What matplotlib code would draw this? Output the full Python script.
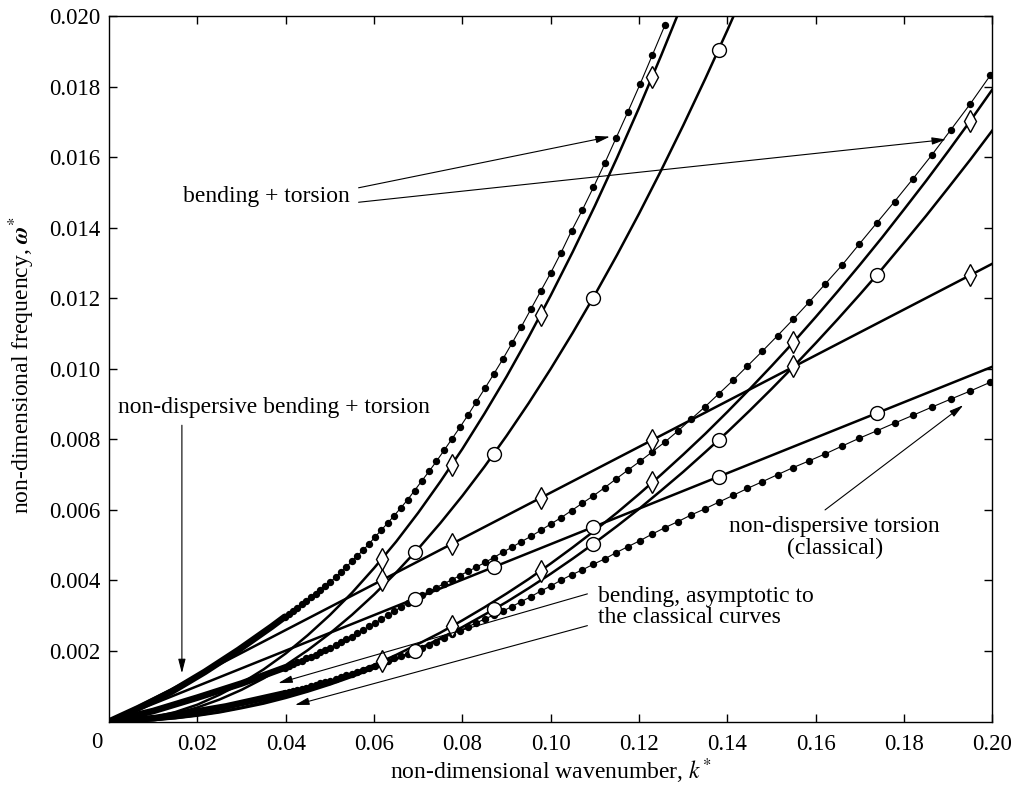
#!/usr/bin/env python3
"""
Dispersion curves: non-dimensional frequency vs non-dimensional wavenumber.
"""
import matplotlib
matplotlib.use('Agg')
import matplotlib.pyplot as plt

# ---------------------------------------------------------------------------
# data
# ---------------------------------------------------------------------------

# k* positions of the dots on the three dotted curves
K_DOT = [
    0.03981, 0.04074, 0.04169, 0.04266, 0.04365, 0.04467, 0.04571, 0.04677, 0.04786, 0.04898,
    0.05012, 0.05129, 0.05248, 0.05370, 0.05495, 0.05623, 0.05754, 0.05888, 0.06026, 0.06166,
    0.06310, 0.06457, 0.06607, 0.06761, 0.06918, 0.07079, 0.07244, 0.07413, 0.07586, 0.07762,
    0.07943, 0.08128, 0.08318, 0.08511, 0.08710, 0.08913, 0.09120, 0.09333, 0.09550, 0.09772,
    0.10000, 0.10233, 0.10471, 0.10715, 0.10965, 0.11220, 0.11482, 0.11749, 0.12023, 0.12303,
    0.12589, 0.12882, 0.13183, 0.13490, 0.13804, 0.14125, 0.14454, 0.14791, 0.15136, 0.15488,
    0.15849, 0.16218, 0.16596, 0.16982, 0.17378, 0.17783, 0.18197, 0.18621, 0.19055, 0.19498,
    0.19953,
]

# steep bending + torsion (dotted)
W_DOT_A = [
    0.00297, 0.00306, 0.00314, 0.00323, 0.00333, 0.00342, 0.00352, 0.00363, 0.00374, 0.00385,
    0.00396, 0.00409, 0.00423, 0.00438, 0.00454, 0.00470, 0.00486, 0.00504, 0.00524, 0.00543,
    0.00563, 0.00584, 0.00606, 0.00629, 0.00655, 0.00682, 0.00709, 0.00738, 0.00769, 0.00801,
    0.00834, 0.00869, 0.00907, 0.00945, 0.00985, 0.01027, 0.01072, 0.01119, 0.01169, 0.01220,
    0.01272, 0.01329, 0.01391, 0.01450, 0.01514, 0.01582, 0.01655, 0.01729, 0.01807, 0.01890,
    0.01975,
]

# second bending + torsion (dotted)
W_DOT_B = [
    0.00153, 0.00158, 0.00163, 0.00168, 0.00173, 0.00179, 0.00184, 0.00190, 0.00196, 0.00203,
    0.00210, 0.00217, 0.00225, 0.00233, 0.00241, 0.00251, 0.00260, 0.00270, 0.00280, 0.00290,
    0.00302, 0.00313, 0.00324, 0.00336, 0.00348, 0.00359, 0.00369, 0.00380, 0.00391, 0.00402,
    0.00414, 0.00426, 0.00438, 0.00451, 0.00465, 0.00480, 0.00494, 0.00510, 0.00525, 0.00542,
    0.00560, 0.00578, 0.00598, 0.00619, 0.00640, 0.00663, 0.00688, 0.00713, 0.00738, 0.00765,
    0.00793, 0.00824, 0.00858, 0.00892, 0.00929, 0.00967, 0.01008, 0.01050, 0.01094, 0.01140,
    0.01189, 0.01241, 0.01294, 0.01353, 0.01413, 0.01474, 0.01538, 0.01605, 0.01677, 0.01751,
    0.01832,
]

# lowest dotted curve (torsion)
W_DOT_D = [
    0.00080, 0.00083, 0.00086, 0.00089, 0.00093, 0.00096, 0.00100, 0.00103, 0.00108, 0.00112,
    0.00116, 0.00121, 0.00126, 0.00131, 0.00136, 0.00142, 0.00147, 0.00153, 0.00159, 0.00165,
    0.00172, 0.00179, 0.00186, 0.00193, 0.00201, 0.00210, 0.00218, 0.00227, 0.00237, 0.00248,
    0.00258, 0.00269, 0.00280, 0.00291, 0.00302, 0.00313, 0.00326, 0.00340, 0.00354, 0.00370,
    0.00384, 0.00401, 0.00416, 0.00430, 0.00446, 0.00461, 0.00479, 0.00496, 0.00513, 0.00532,
    0.00550, 0.00567, 0.00586, 0.00603, 0.00622, 0.00641, 0.00661, 0.00680, 0.00700, 0.00720,
    0.00739, 0.00759, 0.00781, 0.00803, 0.00824, 0.00846, 0.00868, 0.00891, 0.00914, 0.00937,
    0.00962,
]

# near the origin the dots merge into a solid band
K_BAND_A = [0.0, 0.0066, 0.0142, 0.0217, 0.0293, 0.0368, 0.0398]
W_BAND_A = [0.0, 0.00038, 0.00085, 0.00141, 0.00203, 0.00269, 0.00297]
K_BAND_B = [0.0, 0.0100, 0.0200, 0.0300, 0.0398]
W_BAND_B = [0.0, 0.00030, 0.00068, 0.00108, 0.00153]
K_BAND_D = [0.0, 0.0104, 0.0195, 0.0265, 0.0330, 0.0398]
W_BAND_D = [0.0, 0.00010, 0.00028, 0.00043, 0.00061, 0.00080]

# solid curves
K_LINE = [0.000, 0.005, 0.010, 0.015, 0.020, 0.025, 0.030, 0.035, 0.040, 0.045,
          0.050, 0.055, 0.060, 0.065, 0.070, 0.075, 0.080, 0.085, 0.090, 0.095,
          0.100, 0.105, 0.110, 0.115, 0.120, 0.125, 0.130, 0.135, 0.140, 0.145,
          0.150, 0.155, 0.160, 0.165, 0.170, 0.175, 0.180, 0.185, 0.190, 0.195,
          0.200]
W_A2 = [0.0, 0.00003, 0.00012, 0.00027, 0.00048, 0.00076, 0.00109, 0.00148,
        0.00193, 0.00245, 0.00302, 0.00365, 0.00435, 0.00510, 0.00592, 0.00680,
        0.00773, 0.00873, 0.00978, 0.01090, 0.01208, 0.01332, 0.01462, 0.01598,
        0.01740, 0.01888, 0.02042]
W_A3 = [0.0, 0.000025, 0.00010, 0.000225, 0.00040, 0.000625, 0.00090, 0.001225,
        0.00160, 0.002025, 0.00250, 0.003025, 0.00360, 0.004225, 0.00490, 0.005625,
        0.00640, 0.007225, 0.00810, 0.009025, 0.01000, 0.011025, 0.01210, 0.013225,
        0.01440, 0.015625, 0.01690, 0.018225, 0.01960, 0.021025]
W_B2 = [0.0, 0.000011, 0.000045, 0.000101, 0.00018, 0.00028, 0.00040, 0.00055,
        0.00072, 0.00091, 0.00112, 0.00136, 0.00161, 0.00189, 0.00220, 0.00252,
        0.00287, 0.00324, 0.00363, 0.00404, 0.00448, 0.00494, 0.00542, 0.00592,
        0.00645, 0.00700, 0.00757, 0.00816, 0.00878, 0.00942, 0.01008, 0.01076,
        0.01147, 0.01220, 0.01295, 0.01372, 0.01452, 0.01533, 0.01617, 0.01703,
        0.01792]
W_B3 = [0.0, 0.000010, 0.000042, 0.000094, 0.000168, 0.00026, 0.00038, 0.00051,
        0.00067, 0.00085, 0.00105, 0.00127, 0.00151, 0.00177, 0.00205, 0.00236,
        0.00268, 0.00303, 0.00339, 0.00378, 0.00419, 0.00462, 0.00507, 0.00554,
        0.00603, 0.00655, 0.00708, 0.00764, 0.00821, 0.00881, 0.00943, 0.01007,
        0.01073, 0.01141, 0.01211, 0.01283, 0.01358, 0.01434, 0.01513, 0.01593,
        0.01676]
K_STRAIGHT = [0.0, 0.20]
W_C1 = [0.0, 0.01298]
W_C2 = [0.0, 0.01006]

# open symbols on the solid curves
K_DIAMOND = [0.0617, 0.0776, 0.0977, 0.1230, 0.1549, 0.1950]
K_CIRCLE = [0.0692, 0.0871, 0.1096, 0.1380, 0.1738]
W_A2_MK = [0.00460, 0.00727, 0.01153, 0.01826]
W_A3_MK = [0.00480, 0.00758, 0.01202, 0.01904]
W_B2_MK = [0.00171, 0.00270, 0.00428, 0.00680, 0.01075, 0.01703]
W_B3_MK = [0.00201, 0.00318, 0.00503, 0.00798, 0.01266]
W_C1_MK = [0.00401, 0.00503, 0.00633, 0.00798, 0.01009, 0.01266]
W_C2_MK = [0.00348, 0.00438, 0.00551, 0.00694, 0.00874]

XTICKS = [0.02, 0.04, 0.06, 0.08, 0.10, 0.12, 0.14, 0.16, 0.18, 0.20]
XTICK_LABELS = ['0.02', '0.04', '0.06', '0.08', '0.10', '0.12', '0.14', '0.16', '0.18', '0.20']
YTICKS = [0.002, 0.004, 0.006, 0.008, 0.010, 0.012, 0.014, 0.016, 0.018, 0.020]
YTICK_LABELS = ['0.002', '0.004', '0.006', '0.008', '0.010', '0.012', '0.014', '0.016',
                '0.018', '0.020']

FS = 17        # annotation / axis label size
FS_TICK = 16.5

ARROW = '-|>,head_length=0.85,head_width=0.22'


def dotted_curve(ax, k, w, kb, wb):
    ax.plot(kb, wb, '-', color='k', lw=4.8, solid_capstyle='round', zorder=3)
    ax.plot(k, w, '-', color='k', lw=0.8, zorder=3)
    ax.plot(k, w, 'o', color='k', ms=5.3, mew=0, zorder=4)


def solid_curve(ax, k, w, mk_k, mk_w, marker):
    ax.plot(k[:len(w)], w, '-', color='k', lw=1.8, zorder=3)
    ms = 11 if marker == 'd' else 10
    ax.plot(mk_k[:len(mk_w)], mk_w, linestyle='none', marker=marker, ms=ms,
            mfc='white', mec='k', mew=1.0, zorder=5)


def arrow(ax, start, tip):
    ax.annotate('', xy=tip, xytext=start,
                arrowprops=dict(arrowstyle=ARROW, color='k', lw=0.8,
                                shrinkA=0, shrinkB=0),
                zorder=6)


def main():
    plt.rcParams['font.family'] = ['Liberation Serif', 'DejaVu Serif']
    plt.rcParams['mathtext.fontset'] = 'stix'

    fig = plt.figure(figsize=(10.15, 7.87), dpi=100)
    ax = fig.add_axes([0.1074, 0.0831, 0.8704, 0.8966])

    # dotted curves
    dotted_curve(ax, K_DOT[:len(W_DOT_A)], W_DOT_A, K_BAND_A, W_BAND_A)
    dotted_curve(ax, K_DOT, W_DOT_B, K_BAND_B, W_BAND_B)
    dotted_curve(ax, K_DOT, W_DOT_D, K_BAND_D, W_BAND_D)

    # solid curves with open symbols
    solid_curve(ax, K_LINE, W_A2, K_DIAMOND, W_A2_MK, 'd')
    solid_curve(ax, K_LINE, W_A3, K_CIRCLE, W_A3_MK, 'o')
    solid_curve(ax, K_LINE, W_B2, K_DIAMOND, W_B2_MK, 'd')
    solid_curve(ax, K_LINE, W_B3, K_CIRCLE, W_B3_MK, 'o')
    solid_curve(ax, K_STRAIGHT, W_C1, K_DIAMOND, W_C1_MK, 'd')
    solid_curve(ax, K_STRAIGHT, W_C2, K_CIRCLE, W_C2_MK, 'o')

    # annotations
    ax.text(0.0167, 0.01488, 'bending + torsion', fontsize=FS, ha='left', va='center')
    arrow(ax, (0.0565, 0.01513), (0.1134, 0.01658))
    arrow(ax, (0.0565, 0.01472), (0.1895, 0.01650))

    ax.text(0.0020, 0.00889, 'non-dispersive bending + torsion', fontsize=FS,
            ha='left', va='center')
    arrow(ax, (0.0165, 0.00840), (0.0165, 0.00137))

    ax.text(0.1643, 0.00522, 'non-dispersive torsion\n(classical)', fontsize=FS,
            ha='center', va='center', multialignment='center', linespacing=1.05)
    arrow(ax, (0.1621, 0.00600), (0.1934, 0.00897))

    ax.text(0.1108, 0.00325, 'bending, asymptotic to\nthe classical curves', fontsize=FS,
            ha='left', va='center', linespacing=1.05)
    arrow(ax, (0.1083, 0.00362), (0.0383, 0.00109))
    arrow(ax, (0.1083, 0.00272), (0.0421, 0.00047))

    # axes
    ax.set_xlim(0, 0.20)
    ax.set_ylim(0, 0.020)
    ax.set_xticks(XTICKS)
    ax.set_xticklabels(XTICK_LABELS)
    ax.set_yticks(YTICKS)
    ax.set_yticklabels(YTICK_LABELS)
    ax.tick_params(direction='in', length=6, width=1.0, top=True, right=True,
                   labelsize=FS_TICK)
    ax.tick_params(axis='x', pad=9)
    ax.tick_params(axis='y', pad=6)
    for sp in ax.spines.values():
        sp.set_linewidth(1.0)
    ax.text(-0.0136, -0.0303, '0', fontsize=FS_TICK, ha='center', va='center',
            transform=ax.transAxes)

    ax.set_xlabel(r'non-dimensional wavenumber, $k^{*}$', fontsize=FS)
    ax.set_ylabel(r'non-dimensional frequency, $\boldsymbol{\omega}^{*}$', fontsize=FS)
    ax.xaxis.set_label_coords(0.5, -0.071)
    ax.xaxis.label.set_va('center')
    ax.yaxis.set_label_coords(-0.0985, 0.505)
    ax.yaxis.label.set_va('center')

    fig.savefig('out.png', dpi=100)
    plt.close(fig)


if __name__ == '__main__':
    main()
